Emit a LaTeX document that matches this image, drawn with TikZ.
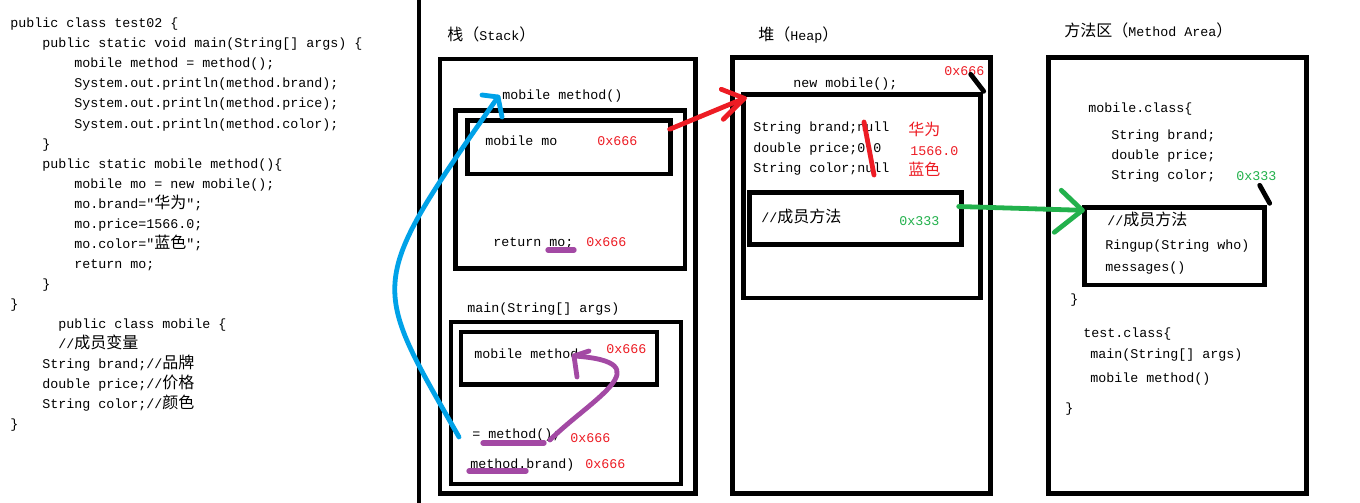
\documentclass[tikz,border=0pt]{standalone}
\usepackage{fontspec}
\newfontfamily\codefont{Liberation Mono}
\newfontfamily\cjkfont[Scale=1.2]{Noto Sans CJK SC}
\usetikzlibrary{fit,calc}
\definecolor{cRed}{HTML}{ED1C24}
\definecolor{cGreen}{HTML}{22B14C}
\definecolor{cBlue}{HTML}{00A2E8}
\definecolor{cPurple}{HTML}{A349A4}
\tikzset{
  txt/.style={anchor=base west, inner sep=0pt, font={\codefont\fontsize{10pt}{12pt}\selectfont}},
  addr/.style={txt, text=cRed},
  gaddr/.style={txt, text=cGreen},
  box/.style={draw, line width=3.3pt, inner sep=0pt},
  conn/.style={line width=3.6pt, line cap=round, line join=round},
  ul/.style={line width=4pt, line cap=round, cPurple},
  tick/.style={line width=3.6pt, line cap=round, black}
}
\begin{document}
\begin{tikzpicture}[x=0.75pt,y=-0.75pt]
\useasboundingbox[fill=white] (0,0) rectangle (1360,503);

% ---------- code on the left ----------
\node[txt] (l1) at (10,28) {public class test02 \{};
\node[txt] (l2) at (42,48) {public static void main(String[] args) \{};
\node[txt] (l3) at (74,68) {mobile method = method();};
\node[txt] (l4) at (74,88) {System.out.println(method.brand);};
\node[txt] (l5) at (74,108) {System.out.println(method.price);};
\node[txt] (l6) at (74,128) {System.out.println(method.color);};
\node[txt] (l7) at (42,148) {\}};
\node[txt] (l8) at (42,168) {public static mobile method()\{};
\node[txt] (l9) at (74,188) {mobile mo = new mobile();};
\node[txt] (l10) at (74,208) {mo.brand="{\cjkfont 华为}";};
\node[txt] (l11) at (74,228) {mo.price=1566.0;};
\node[txt] (l12) at (74,248) {mo.color="{\cjkfont 蓝色}";};
\node[txt] (l13) at (74,268) {return mo;};
\node[txt] (l14) at (42,288) {\}};
\node[txt] (l15) at (10,308) {\}};
\node[txt] (l16) at (58,328) {public class mobile \{};
\node[txt] (l17) at (58,348) {//{\cjkfont 成员变量}};
\node[txt] (l18) at (42,368) {String brand;//{\cjkfont 品牌}};
\node[txt] (l19) at (42,388) {double price;//{\cjkfont 价格}};
\node[txt] (l20) at (42,408) {String color;//{\cjkfont 颜色}};
\node[txt] (l21) at (10,428) {\}};

% separator
\draw[line width=3pt] (419,0) -- (419,503);

% ---------- stack ----------
\node[txt] (tStack) at (447,41) {{\cjkfont 栈（}Stack{\cjkfont ）}};
\node[box, fit={(440,59) (695.5,493.5)}] (stackbox) {};
\node[box, fit={(455.5,110.5) (685,268.5)}] (mframe) {};
\node[box, fit={(467.5,120.5) (670.5,174)}] (mobox) {};
\node[box, fit={(451,322) (681,484)}] (mainframe) {};
\node[box, fit={(461,332) (657,384.5)}] (mmbox) {};

\node[txt] (mmlabel) at (502,99) {mobile method()};
\node[txt] (mo) at (485,145) {mobile mo};
\node[addr] (a1) at (597,145) {0x666};
\node[txt] (ret) at (493,246) {return mo;};
\node[addr] (a2) at (586,246) {0x666};
\node[txt] (mainlbl) at (467,312) {main(String[] args)};
\node[txt] (mm) at (474,358) {mobile method};
\node[addr] (a3) at (606,353) {0x666};
\node[txt] (eq) at (472,438) {= method();};
\node[addr] (a4) at (570,442) {0x666};
\node[txt] (mb) at (470,468) {method.brand)};
\node[addr] (a5) at (585,468) {0x666};

\draw[ul] (548,250) -- (574,250);
\draw[ul] (483,443) -- (544,443);
\draw[ul] (469,471) -- (526,471);

% ---------- heap ----------
\node[txt] (tHeap) at (758,41) {{\cjkfont 堆（}Heap{\cjkfont ）}};
\node[box, fit={(732.5,57.5) (990.5,493.5)}] (heapbox) {};
\node[box, fit={(743.5,94.5) (980.5,298)}] (objbox) {};
\node[box, fit={(749.5,192.5) (961.5,244.5)}] (hmbox) {};

\node[txt] (newm) at (793,88) {new mobile();};
\node[addr] (a6) at (944,75) {0x666};
\node[txt] (f1) at (753,132) {String brand;null};
\node[txt] (f2) at (753,152) {double price;0.0};
\node[txt] (f3) at (753,172) {String color;null};
\node[addr] (v1) at (908,135) {{\cjkfont 华为}};
\node[addr] (v2) at (910,155) {1566.0};
\node[addr] (v3) at (908,175) {{\cjkfont 蓝色}};
\node[txt] (hm) at (761,222) {//{\cjkfont 成员方法}};
\node[gaddr] (g1) at (899,225) {0x333};

\draw[conn, cRed] (864,122) -- (874,175);

% ---------- method area ----------
\node[txt] (tArea) at (1064,37) {{\cjkfont 方法区（}Method Area{\cjkfont ）}};
\node[box, fit={(1048.5,57.5) (1306.5,493.5)}] (areabox) {};
\node[box, fit={(1084.5,207.5) (1264.5,285)}] (mabox) {};

\node[txt] (mc) at (1088,113) {mobile.class\{};
\node[txt] (mf1) at (1111,139) {String brand;};
\node[txt] (mf2) at (1111,159) {double price;};
\node[txt] (mf3) at (1111,179) {String color;};
\node[gaddr] (g2) at (1236,180) {0x333};
\node[txt] (mm1) at (1107,225) {//{\cjkfont 成员方法}};
\node[txt] (mm2) at (1105,249) {Ringup(String who)};
\node[txt] (mm3) at (1105,271) {messages()};
\node[txt] (cb1) at (1070,303) {\}};
\node[txt] (tc) at (1083,337) {test.class\{};
\node[txt] (tc1) at (1090,358) {main(String[] args)};
\node[txt] (tc2) at (1090,382) {mobile method()};
\node[txt] (cb2) at (1065,412) {\}};

% ---------- connectors ----------
% blue: method() call -> mobile method() frame
\draw[conn, cBlue] ([shift={(-13,-1)}]eq.base west)
  .. controls +(-89,-156) and +(-133,190) .. ([shift={(-4,-2)}]mmlabel.base west) coordinate (bTip);
\draw[conn, cBlue] ($(bTip)+(-16,-2)$) -- (bTip) -- ++(4,20);

% red: mo -> heap object
\draw[conn, cRed] ([shift={(-3,-18)}]mobox.east) -- ([shift={(3,6)}]objbox.north west) coordinate (rTip);
\draw[conn, cRed] ($(rTip)+(-23,-9)$) -- (rTip) -- ++(-21,21);

% green: heap methods -> method area
\draw[conn, cGreen] ([shift={(-5,-12)}]hmbox.east) -- ([shift={(0,5)}]mabox.north west) coordinate (gTip);
\draw[conn, cGreen] ($(gTip)+(-21,-20)$) -- (gTip) -- ++(-28,22);

% purple: return value -> mobile method
\draw[conn, cPurple] ([shift={(78,2)}]eq.base west)
  .. controls +(40,-40) and +(91,6) .. ([shift={(100,-2)}]mm.base west) coordinate (pTip);
\draw[conn, cPurple] ($(pTip)+(15,-5)$) -- (pTip) -- ++(3,21);

% black ticks: address labels -> boxes
\draw[tick] ([shift={(1,-1)}]objbox.north east) -- ++(-13,-17);
\draw[tick] ([shift={(3,-2)}]mabox.north east) -- ++(-10,-18);
\end{tikzpicture}
\end{document}
